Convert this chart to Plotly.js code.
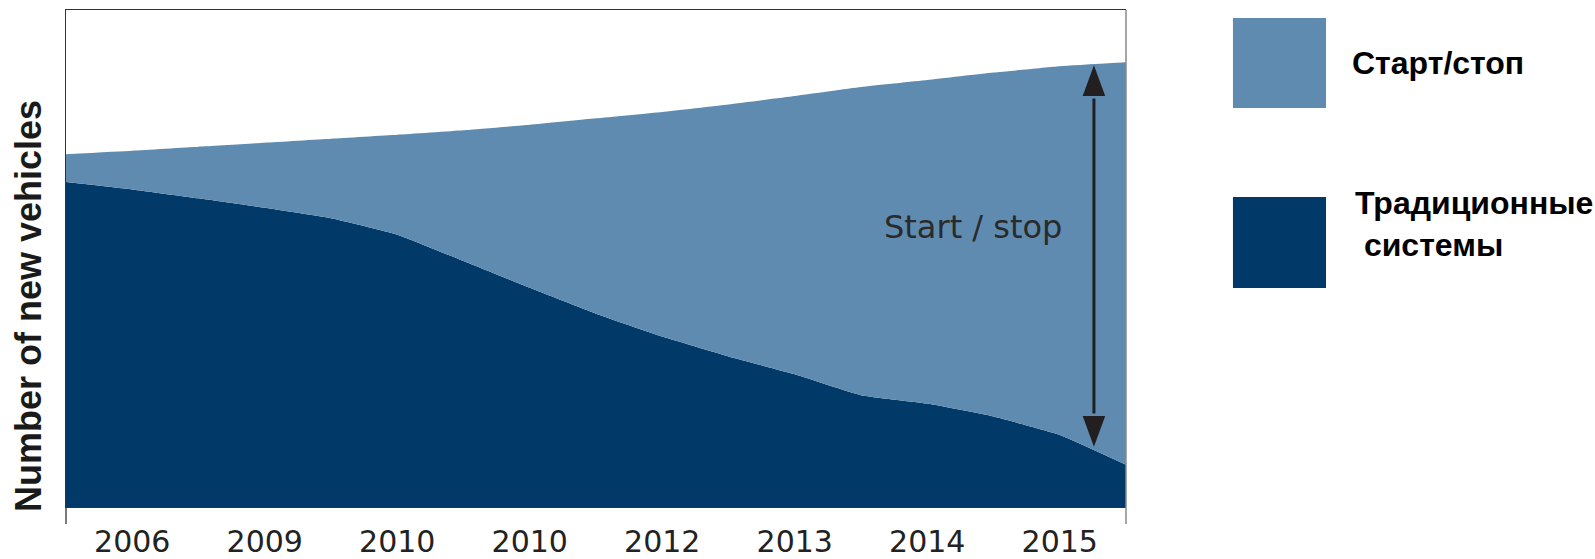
<!DOCTYPE html>
<html>
<head>
<meta charset="utf-8">
<script src="https://cdn.plot.ly/plotly-3.0.1.min.js"></script>
<style>
  html, body { margin: 0; padding: 0; background: #fff; }
  #chart { width: 1595px; height: 559px; }
</style>
</head>
<body>
<div id="chart"></div>
<script>
// Category labels (as printed on the chart, including the repeated 2010)
const tickLabels = ["2006", "2009", "2010", "2010", "2012", "2013", "2014", "2015"];
const tickPositions = [0, 1, 2, 3, 4, 5, 6, 7];

// Sample positions along the category axis (half-category steps)
const xPos = [-0.5, 0, 0.5, 1, 1.5, 2, 2.5, 3, 3.5, 4, 4.5, 5, 5.5, 6, 6.5, 7, 7.5];

// Traditional systems (lower, dark area) – relative units
const traditional = [65.4, 63.9, 62.1, 60.2, 58.1, 54.8, 49.5, 44.1, 38.9, 34.3, 30.3, 26.7, 22.5, 20.8, 18.2, 14.5, 8.5];

// Total new vehicles (top of the light area)
const total = [71.0, 71.7, 72.5, 73.3, 74.1, 74.9, 75.8, 76.9, 78.2, 79.5, 81.0, 82.7, 84.5, 85.9, 87.4, 88.7, 89.5];

const lightBlue = "#5f8bb0";
const darkBlue = "#013968";

const traces = [
  {
    x: xPos, y: traditional, type: "scatter", mode: "lines",
    line: { width: 0, color: darkBlue, shape: "spline", smoothing: 0.4 },
    fill: "tozeroy", fillcolor: darkBlue, hoverinfo: "skip", showlegend: false
  },
  {
    x: xPos, y: total, type: "scatter", mode: "lines",
    line: { width: 0, color: lightBlue, shape: "spline", smoothing: 0.4 },
    fill: "tonexty", fillcolor: lightBlue, hoverinfo: "skip", showlegend: false
  }
];

// arrow geometry (decoration)
const ax = 7.258, aTop = 88.9, aTopBase = 82.7, aBot = 12.1, aBotBase = 18.3, aHalf = 0.085;

const shapes = [
  { type: "line", xref: "x", yref: "y", x0: ax, x1: ax, y0: aBotBase + 0.5, y1: aTopBase - 0.5,
    line: { color: "#231f20", width: 3 } },
  { type: "path", xref: "x", yref: "y",
    path: `M ${ax} ${aTop} L ${ax - aHalf} ${aTopBase} L ${ax + aHalf} ${aTopBase} Z`,
    fillcolor: "#231f20", line: { width: 0 } },
  { type: "path", xref: "x", yref: "y",
    path: `M ${ax} ${aBot} L ${ax - aHalf} ${aBotBase} L ${ax + aHalf} ${aBotBase} Z`,
    fillcolor: "#231f20", line: { width: 0 } },
  { type: "line", xref: "paper", yref: "paper", x0: 0, x1: 0, y0: -0.034, y1: 0,
    line: { color: "#333", width: 1.3 } },
  { type: "line", xref: "paper", yref: "paper", x0: 1, x1: 1, y0: -0.034, y1: 1,
    line: { color: "#8a8a8a", width: 1.5 } },
  { type: "rect", xref: "paper", yref: "paper", x0: 1.1009, x1: 1.1887, y0: 0.8028, y1: 0.9839,
    fillcolor: lightBlue, line: { width: 0 } },
  { type: "rect", xref: "paper", yref: "paper", x0: 1.1009, x1: 1.1887, y0: 0.4406, y1: 0.6237,
    fillcolor: darkBlue, line: { width: 0 } }
];

const annotations = [
  { text: "Start / stop", xref: "x", yref: "y", x: 6.345, y: 56.3, showarrow: false,
    xanchor: "center", yanchor: "middle",
    font: { family: "DejaVu Sans", size: 32, color: "#2a2a2a" } },
  { text: "<b>Number of new vehicles</b>", xref: "paper", yref: "paper", x: -0.0355, y: 0.405,
    xanchor: "center", yanchor: "middle",
    textangle: -90, showarrow: false,
    font: { family: "Liberation Sans", size: 36, color: "#1a1a1a" } },
  { text: "<b>Старт/стоп</b>", xref: "paper", yref: "paper", x: 1.2113, y: 0.893,
    xanchor: "left", yanchor: "middle", showarrow: false, align: "left",
    font: { family: "Liberation Sans", size: 32, color: "#000" } },
  { text: "<b>Традиционные<br>\u00a0системы</b>", xref: "paper", yref: "paper", x: 1.2142, y: 0.57,
    xanchor: "left", yanchor: "middle", showarrow: false, align: "left",
    font: { family: "Liberation Sans", size: 32, color: "#000" } }
];

const layout = {
  width: 1595, height: 559,
  margin: { l: 66, r: 469, t: 10, b: 52, pad: 0 },
  paper_bgcolor: "#fff", plot_bgcolor: "#fff",
  showlegend: false,
  xaxis: {
    range: [-0.5, 7.5], tickmode: "array", tickvals: tickPositions, ticktext: tickLabels,
    showgrid: false, zeroline: false, showline: true, mirror: true,
    linecolor: "#333", linewidth: 1.3, ticks: "",
    tickfont: { family: "DejaVu Sans", size: 30, color: "#222" },
    ticklabelstandoff: 8, fixedrange: true
  },
  yaxis: {
    range: [0, 100], showticklabels: false, showgrid: false, zeroline: false,
    showline: true, mirror: false, linecolor: "#333", linewidth: 1.3, ticks: "", fixedrange: true
  },
  shapes: shapes,
  annotations: annotations
};

Plotly.newPlot("chart", traces, layout, { displayModeBar: false, staticPlot: true });
</script>
</body>
</html>
